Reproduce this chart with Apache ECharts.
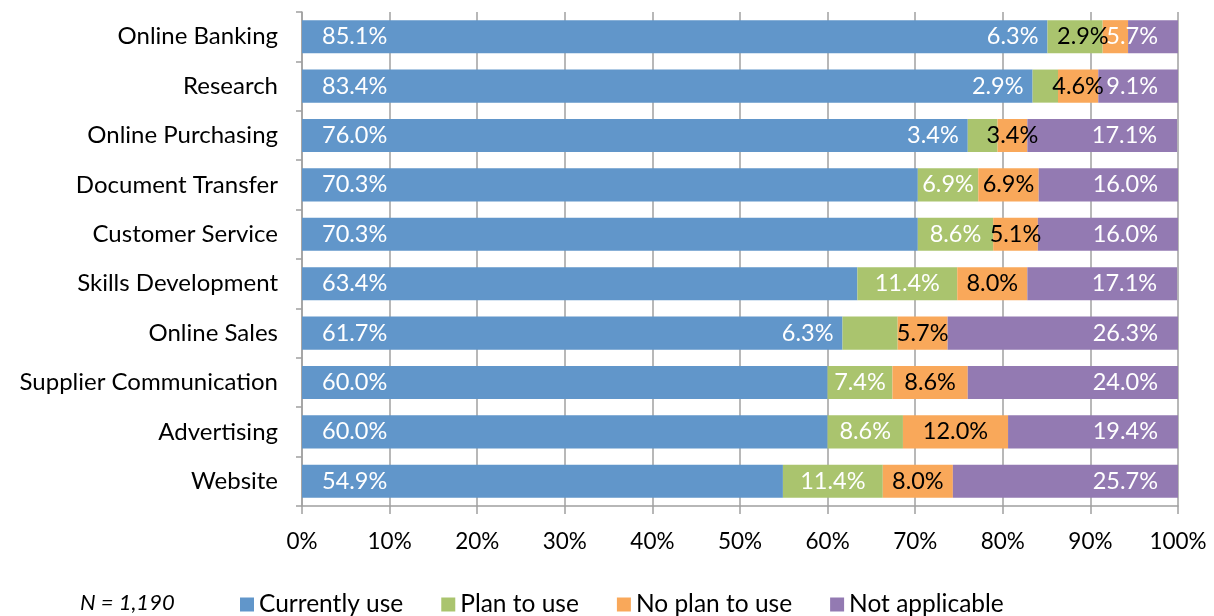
<!DOCTYPE html>
<html>
<head>
<meta charset="utf-8">
<script src="https://cdn.jsdelivr.net/npm/echarts@6/dist/echarts.min.js"></script>
<style>
  html, body { margin: 0; padding: 0; background: #fff; }
  #chart { width: 1214px; height: 616px; }
</style>
</head>
<body>
<div id="chart"></div>
<script>
// Technology usage by activity (percent of respondents)
const categories = ['Online Banking', 'Research', 'Online Purchasing', 'Document Transfer', 'Customer Service',
  'Skills Development', 'Online Sales', 'Supplier Communication', 'Advertising', 'Website'];
const currentlyUse = [85.1, 83.4, 76.0, 70.3, 70.3, 63.4, 61.7, 60.0, 60.0, 54.9];
const planToUse    = [6.3, 2.9, 3.4, 6.9, 8.6, 11.4, 6.3, 7.4, 8.6, 11.4];
const noPlanToUse  = [2.9, 4.6, 3.4, 6.9, 5.1, 8.0, 5.7, 8.6, 12.0, 8.0];
const notApplicable = [5.7, 9.1, 17.1, 16.0, 16.0, 17.1, 26.3, 24.0, 19.4, 25.7];
const xTicks = [0, 10, 20, 30, 40, 50, 60, 70, 80, 90, 100];
const sampleNote = 'N = 1,190';

const FONT = 'Lato';
const pct = p => p.value.toFixed(1) + '%';
const colors = ['#6196ca', '#aac46e', '#f9a85a', '#937ab2'];

// narrow green segments get their label pushed to the left of the segment
const planData = planToUse.map(v => v < 6.5
  ? { value: v, label: { position: 'left', distance: 9 } }
  : v);
// very narrow orange segments get their label nudged left
const noPlanData = noPlanToUse.map(v => v < 3
  ? { value: v, label: { position: 'left', distance: -6 } }
  : v);

const labelBase = { show: true, fontFamily: FONT, fontSize: 23.5, formatter: pct };

const chart = echarts.init(document.getElementById('chart'), null, { renderer: 'canvas' });
chart.setOption({
  animation: false,
  color: colors,
  textStyle: { fontFamily: FONT },
  grid: { left: 302, right: 36, top: 12, bottom: 110, containLabel: false },
  xAxis: {
    type: 'value', min: xTicks[0], max: xTicks[xTicks.length - 1], interval: 10,
    axisLine: { show: true, lineStyle: { color: '#a0a0a0', width: 1.5 } },
    axisTick: { show: true, length: 8, lineStyle: { color: '#a0a0a0', width: 1.5 } },
    splitLine: { show: true, lineStyle: { color: '#a0a0a0', width: 1.5 } },
    axisLabel: { formatter: '{value}%', color: '#000', fontSize: 22.5, fontFamily: FONT, margin: 24 }
  },
  yAxis: {
    type: 'category', data: categories, inverse: true,
    axisLine: { show: true, lineStyle: { color: '#a0a0a0', width: 1.5 } },
    axisTick: { show: true, length: 6, lineStyle: { color: '#a0a0a0', width: 1.5 } },
    axisLabel: { color: '#000', fontSize: 24, fontFamily: FONT, margin: 24, padding: [4, 0, 0, 0] }
  },
  legend: {
    left: 240, top: 592, padding: 0, itemWidth: 14, itemHeight: 14, itemGap: 38,
    icon: 'rect',
    textStyle: { color: '#000', fontSize: 24.5, fontFamily: FONT, padding: [0, 0, 0, 0] },
    data: ['Currently use', 'Plan to use', 'No plan to use', 'Not applicable']
  },
  graphic: [{
    type: 'text', left: 80, top: 592,
    style: { text: sampleNote, fontSize: 22, fontStyle: 'italic', fontFamily: FONT, fill: '#000' }
  }],
  series: [
    { name: 'Currently use', type: 'bar', stack: 'all', data: currentlyUse, barCategoryGap: '33%',
      label: Object.assign({}, labelBase, { position: 'insideLeft', distance: 20, color: '#fff' }) },
    { name: 'Plan to use', type: 'bar', stack: 'all', data: planData,
      label: Object.assign({}, labelBase, { position: 'inside', color: '#fff' }) },
    { name: 'No plan to use', type: 'bar', stack: 'all', data: noPlanData,
      label: Object.assign({}, labelBase, { position: 'inside', color: '#000' }) },
    { name: 'Not applicable', type: 'bar', stack: 'all', data: notApplicable,
      label: Object.assign({}, labelBase, { position: 'insideRight', distance: 20, color: '#fff' }) }
  ]
});
</script>
</body>
</html>
